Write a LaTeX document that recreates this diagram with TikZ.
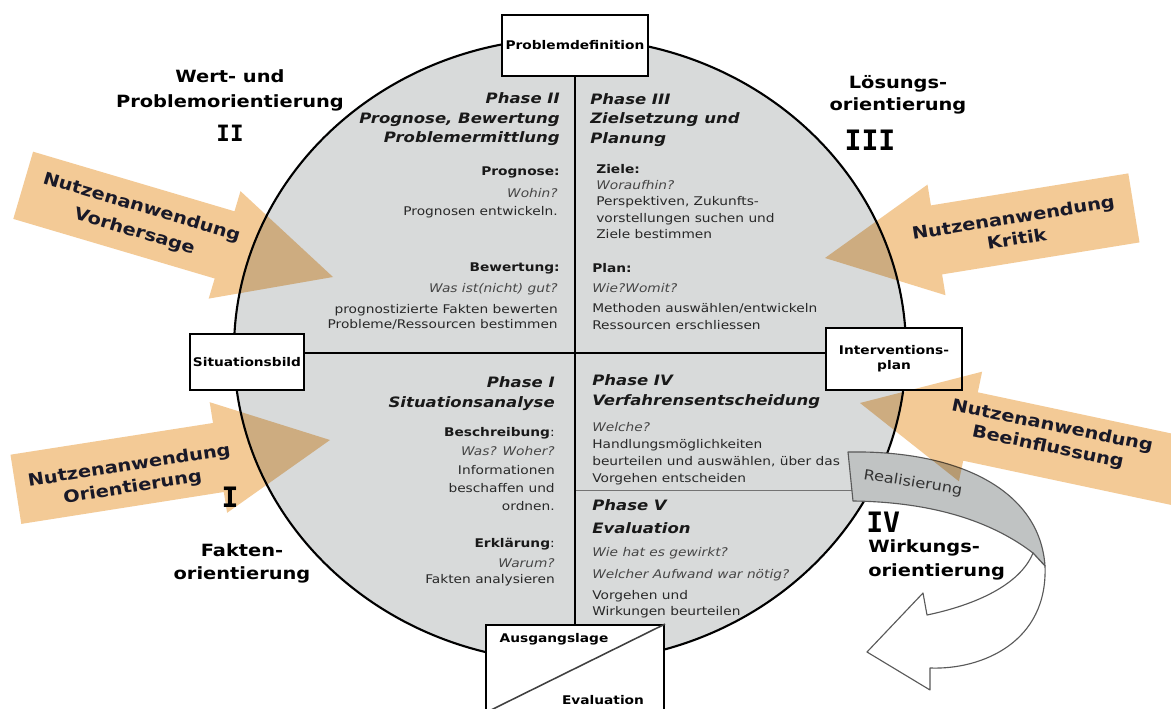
\documentclass[tikz,border=0pt]{standalone}
\usepackage{fontspec}
\setmainfont{DejaVu Sans}[FakeStretch=1.15]
\newfontfamily\numfont{DejaVu Sans Mono}
\usetikzlibrary{calc}
\definecolor{circgray}{RGB}{216,218,218}
\definecolor{peach}{RGB}{243,202,150}
\definecolor{bandgray}{RGB}{192,195,195}
\definecolor{txt}{RGB}{40,40,40}
\definecolor{itxt}{RGB}{70,70,70}
\definecolor{navy}{RGB}{25,25,40}
\begin{document}
\begin{tikzpicture}[x=0.025cm,y=-0.025cm,
  box/.style={draw=black, line width=1.3pt, fill=white, rectangle, inner sep=0pt, font=\fontsize{8.5}{10.5}\selectfont\bfseries, align=center},
  boxtext/.style={inner sep=0pt, font=\fontsize{8.5}{10.5}\selectfont\bfseries},
  head/.style={inner sep=0pt, font=\fontsize{10.2}{13.8}\selectfont\bfseries\itshape, text=black!90},
  sub/.style={inner sep=0pt, font=\fontsize{8.5}{11}\selectfont\bfseries, text=black!90},
  body/.style={inner sep=0pt, font=\fontsize{8.5}{11.8}\selectfont, text=txt},
  ital/.style={inner sep=0pt, font=\fontsize{8.5}{11.8}\selectfont\itshape, text=itxt},
  outer/.style={inner sep=0pt, font=\fontsize{12}{16.3}\selectfont\bfseries, align=center},
  roman/.style={inner sep=0pt, font=\fontsize{20}{22}\selectfont\numfont\bfseries},
  arrowtext/.style={inner sep=0pt, font=\fontsize{12}{15.5}\selectfont\bfseries, text=navy, align=center},
  divider/.style={line width=1.4pt, draw=black},
  bandline/.style={draw=black!65, line width=0.8pt, line join=round},
  ]
\useasboundingbox (0,0) rectangle (1171,709);
\clip (0,0) rectangle (1171,709);
\fill[white] (0,0) rectangle (1171,709);

% circle
\fill[circgray] (570,350) ellipse [x radius=336, y radius=312];
\draw[line width=1.5pt] (570,350) ellipse [x radius=336, y radius=312];

% Phase IV / V divider
\coordinate (d1) at (575,490);
\coordinate (d2) at (852,490);
\draw[line width=0.7pt, black!55] (d1) -- (d2);

% Realisierung ribbon
\draw[bandline, fill=bandgray] (848,452) .. controls (962,450) and (1040,492) .. (1045,566)
  -- (1033,553) .. controls (990,520) and (930,502) .. (853,501) -- cycle;
\draw[bandline, fill=white] (1045,566) .. controls (1048,642) and (982,670) .. (930,668)
  -- (930,690) -- (867,652) -- (923,593) -- (927,615)
  .. controls (975,605) and (1020,585) .. (1033,553) -- cycle;

% boxes
\node[box, minimum width=3.65cm, minimum height=1.525cm] (pd) at (575,45.5) {Problemdefinition};
\node[box, minimum width=2.85cm, minimum height=1.4cm] (sb) at (247,362) {Situationsbild};
\node[box, minimum width=3.4cm, minimum height=1.55cm] (ip) at (894,359) {Interventions-\\plan};
\node[box, minimum width=4.45cm, minimum height=2.175cm] (al) at (575,668.5) {};
\draw[line width=1.1pt, black!75] (al.south west) -- (al.north east);
\node[boxtext] (alt) at (554,639) {Ausgangslage};
\node[boxtext] (evt) at (603,700) {Evaluation};

% dividers
\coordinate (hl) at (575,353);
\draw[divider] (pd.south) -- (al.north);
\draw[divider] (sb.east |- hl) -- (ip.west |- hl);

% orange arrows
\begin{scope}[blend mode=multiply]
\fill[peach] (33.1,151.7) -- (234.5,211.3) -- (240.5,191.2) -- (333,277) -- (208.7,298.6) -- (214.7,278.5) -- (13.3,218.9) -- cycle;
\fill[peach] (1128.3,173.4) -- (930.9,205.4) -- (927.5,184.6) -- (825,258) -- (945.5,295.2) -- (942.1,274.4) -- (1139.5,242.4) -- cycle;
\fill[peach] (10.5,454.7) -- (213,423) -- (209.7,402.2) -- (330,440) -- (227.1,512.8) -- (223.8,492) -- (21.3,523.9) -- cycle;
\fill[peach] (1222.3,444.3) -- (977.8,392.3) -- (982.1,371.7) -- (860,403) -- (958.9,481.3) -- (963.2,460.7) -- (1207.7,512.7) -- cycle;
\end{scope}

\node[arrowtext, rotate=-16.5, font=\fontsize{12}{18}\selectfont\bfseries] (t1) at (138,220) {Nutzenanwendung\\Vorhersage};
\node[arrowtext, rotate=9.2] (t2) at (1015,228) {Nutzenanwendung\\Kritik};
\node[arrowtext, rotate=8.9] (t3) at (131,477) {Nutzenanwendung\\Orientierung};
\node[arrowtext, rotate=-11.6] (t4) at (1050,437) {Nutzenanwendung\\Beeinflussung};

\node[rotate=-9, inner sep=0pt, font=\fontsize{10}{12}\selectfont, text=black!80] (rl) at (913,483) {Realisierung};

% outer labels
\node[outer, font=\fontsize{12}{17.7}\selectfont\bfseries] (wp) at (230,90.5) {Wert- und\\Problemorientierung};
\node[roman, font=\fontsize{16}{18}\selectfont\numfont\bfseries] (r2) at (230,133) {II};
\node[outer, font=\fontsize{12}{15.6}\selectfont\bfseries] (lo) at (898,95) {Lösungs-\\orientierung};
\node[roman] (r3) at (870,140) {III};
\node[roman] (r1) at (230,497) {I};
\node[outer] (fo) at (242,563) {Fakten-\\orientierung};
\node[roman, anchor=west] (r4) at (866,522) {IV};
\node[outer, anchor=west, align=left, font=\fontsize{12}{17}\selectfont\bfseries] (wo) at (868,560) {Wirkungs-\\orientierung};

% Phase II
\node[head, anchor=east, align=right] (h2) at (560,119.5) {Phase II\\Prognose, Bewertung\\Problemermittlung};
\node[sub, anchor=east] (s2a) at (560,172) {Prognose:};
\node[ital, anchor=east] (i2a) at (558,193) {Wohin?};
\node[body, anchor=east] (b2a) at (558,212) {Prognosen entwickeln.};
\node[sub, anchor=east] (s2b) at (560,268) {Bewertung:};
\node[ital, anchor=east] (i2b) at (558,289) {Was ist(nicht) gut?};
\node[body, anchor=east, align=right, font=\fontsize{8.5}{11.3}\selectfont] (b2b) at (558,317) {prognostizierte Fakten bewerten\\Probleme/Ressourcen bestimmen};

% Phase III
\node[head, anchor=west, align=left] (h3) at (590,120) {Phase III\\Zielsetzung und\\Planung};
\node[sub, anchor=west] (s3a) at (596,169) {Ziele:};
\node[body, anchor=west, align=left, font=\fontsize{8.5}{11.6}\selectfont] (b3a) at (596,209.5) {\textcolor{itxt}{\itshape Woraufhin?}\\Perspektiven, Zukunfts-\\vorstellungen suchen und\\Ziele bestimmen};
\node[sub, anchor=west] (s3b) at (592,268) {Plan:};
\node[ital, anchor=west] (i3b) at (592,288) {Wie?Womit?};
\node[body, anchor=west, align=left, font=\fontsize{8.5}{12}\selectfont] (b3b) at (592,316.5) {Methoden auswählen/entwickeln\\Ressourcen erschliessen};

% Phase I
\node[head, anchor=east, align=right, font=\fontsize{10.2}{14.2}\selectfont\bfseries\itshape] (h1) at (555,394) {Phase I\\Situationsanalyse};
\node[sub, anchor=east] (s1a) at (555,433) {Beschreibung\textmd{:}};
\node[ital, anchor=east] (i1a) at (555,451) {Was? Woher?};
\node[body, anchor=east, align=right, font=\fontsize{8.5}{12.8}\selectfont] (b1a) at (555,488) {Informationen\\beschaffen und\\ordnen.};
\node[sub, anchor=east] (s1b) at (555,544) {Erklärung\textmd{:}};
\node[ital, anchor=east] (i1b) at (555,563) {Warum?};
\node[body, anchor=east] (b1b) at (555,580) {Fakten analysieren};

% Phase IV / V
\node[head, anchor=west, align=left] (h4) at (592,391.5) {Phase IV\\Verfahrensentscheidung};
\node[body, anchor=west, align=left, font=\fontsize{8.5}{12}\selectfont] (b4) at (592,453.5) {\textcolor{itxt}{\itshape Welche?}\\Handlungsmöglichkeiten\\beurteilen und auswählen, über das\\Vorgehen entscheiden};
\node[head, anchor=west, align=left, font=\fontsize{10.2}{16.3}\selectfont\bfseries\itshape] (h5) at (592,516.5) {Phase V\\Evaluation};
\node[ital, anchor=west] (i5a) at (592,553) {Wie hat es gewirkt?};
\node[ital, anchor=west] (i5b) at (592,575) {Welcher Aufwand war nötig?};
\node[body, anchor=west, align=left, font=\fontsize{8.5}{11.3}\selectfont] (b5) at (592,604) {Vorgehen und\\Wirkungen beurteilen};
\end{tikzpicture}
\end{document}
